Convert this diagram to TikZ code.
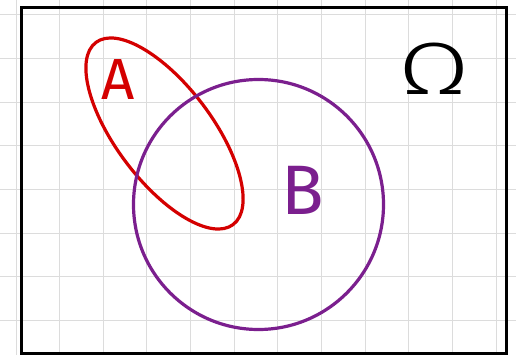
\documentclass[tikz,border=0pt]{standalone}
\usepackage{fontspec}
\setmainfont{Fira Sans}
\newfontfamily\omegafont{Fira Sans}[UprightFont=* Light]
\definecolor{setred}{HTML}{D40000}
\definecolor{setpurple}{HTML}{7B1F8E}
\definecolor{gridgray}{HTML}{DCDCDC}
\begin{document}
\begin{tikzpicture}[x=1pt,y=-1pt,
  gridline/.style={draw=gridgray, line width=1},
  setline/.style={line width=3.2},
  lbl/.style={inner sep=0, anchor=center}]
\useasboundingbox (0,0) rectangle (516,355);
\fill[white] (0,0) rectangle (516,355);
\foreach \i in {0,...,11} {
  \draw[gridline] ({16+43.65*\i},0) -- ({16+43.65*\i},355);
}
\foreach \j in {0,...,7} {
  \draw[gridline] (0,{15+43.65*\j}) -- (516,{15+43.65*\j});
}
\draw[line width=3] (21,8) rectangle (506,353);
\draw[setline, setred] (164.5,133.5) ellipse [x radius=114, y radius=48, rotate=-53];
\draw[setline, setpurple] (258.5,204.5) circle [radius=125];
\node[lbl, text=setred, font=\fontsize{58}{60}\selectfont] (A) at (118,80) {A};
\node[lbl, text=setpurple, font=\fontsize{70}{72}\selectfont] (B) at (303,190) {B};
\node[lbl, text=black, font=\omegafont\fontsize{74}{76}\selectfont] (O) at (434,69) {\scalebox{1.4}[1]{Ω}};
\end{tikzpicture}
\end{document}
